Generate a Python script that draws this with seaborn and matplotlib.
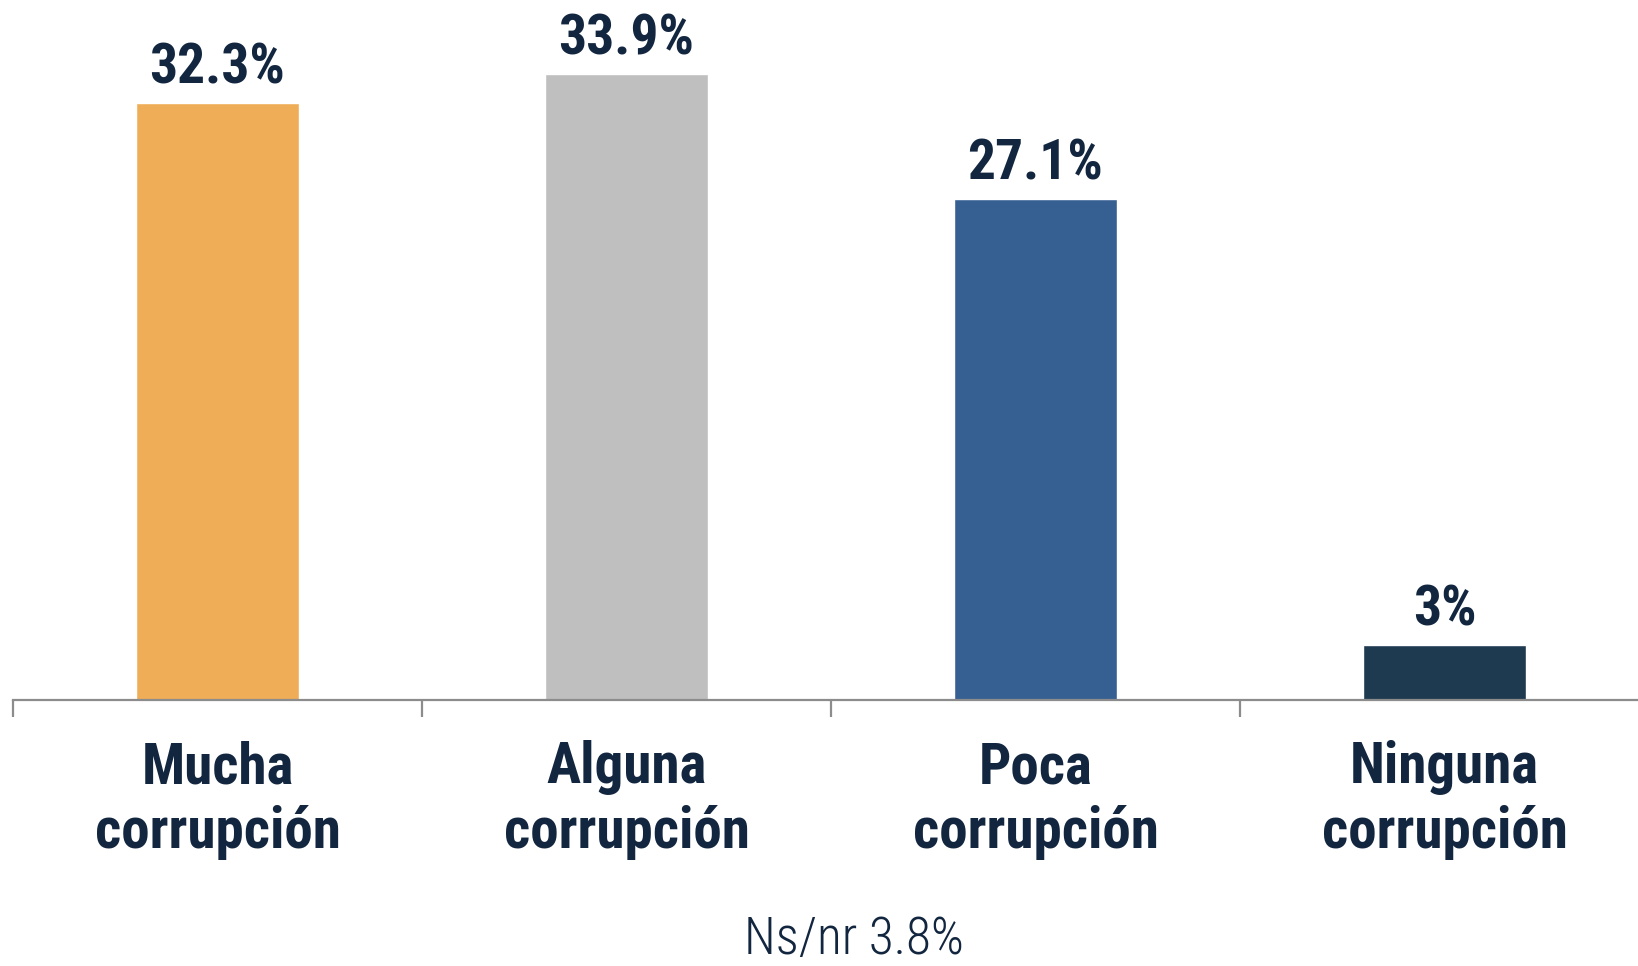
import pandas as pd
import seaborn as sns
import matplotlib.pyplot as plt
from matplotlib import font_manager

# Data
categories = ['Mucha\ncorrupción', 'Alguna\ncorrupción', 'Poca\ncorrupción', 'Ninguna\ncorrupción']
values = [32.3, 33.9, 27.1, 3.0]
value_labels = ['32.3%', '33.9%', '27.1%', '3%']
colors = ['#EFAD57', '#BFBFBF', '#376092', '#1E3A50']
note = 'Ns/nr 3.8%'

text_color = '#13263F'

sns.set_theme(style='white')
installed = {f.name for f in font_manager.fontManager.ttflist}
fam = 'DejaVu Sans'
for cand in ['Roboto Condensed', 'Liberation Sans Narrow', 'Open Sans Condensed', 'Roboto']:
    if cand in installed:
        fam = cand
        break
plt.rcParams['font.family'] = [fam, 'DejaVu Sans']

df = pd.DataFrame({'cat': categories, 'val': values})

fig = plt.figure(figsize=(16.38, 9.66), dpi=100)
ax = fig.add_axes([13 / 1638, 266 / 966, 1636 / 1638, 665 / 966])

sns.barplot(data=df, x='cat', y='val', hue='cat', palette=colors, legend=False,
            width=0.4, saturation=1, ax=ax)

ax.set_xlim(-0.5, 3.5)
ax.set_ylim(0, 36)

# value labels above bars
for i, (v, lab) in enumerate(zip(values, value_labels)):
    ax.annotate(lab, xy=(i, v), xytext=(0, 14), textcoords='offset points',
                ha='center', va='baseline', fontsize=40, fontweight='bold', color=text_color)

# axis styling
for s in ['top', 'right', 'left']:
    ax.spines[s].set_visible(False)
ax.spines['bottom'].set_color('#8C8C8C')
ax.spines['bottom'].set_linewidth(1.6)
ax.set_yticks([])
ax.set_xticks([-0.5, 0.5, 1.5, 2.5, 3.5])
ax.set_xticklabels([])
ax.tick_params(axis='x', which='major', length=12, width=1.6, color='#8C8C8C', bottom=True)
ax.set_xticks(range(len(categories)), minor=True)
ax.set_xticklabels(categories, minor=True, fontsize=41, fontweight='bold',
                   color=text_color, linespacing=1.22)
ax.tick_params(axis='x', which='minor', length=0, pad=29)
ax.set_xlabel('')
ax.set_ylabel('')

fig.text(854 / 1638, 12 / 966, note, ha='center', va='baseline', fontsize=37,
         color=text_color, fontweight='light')

fig.savefig('out.png', dpi=100, facecolor='white')
